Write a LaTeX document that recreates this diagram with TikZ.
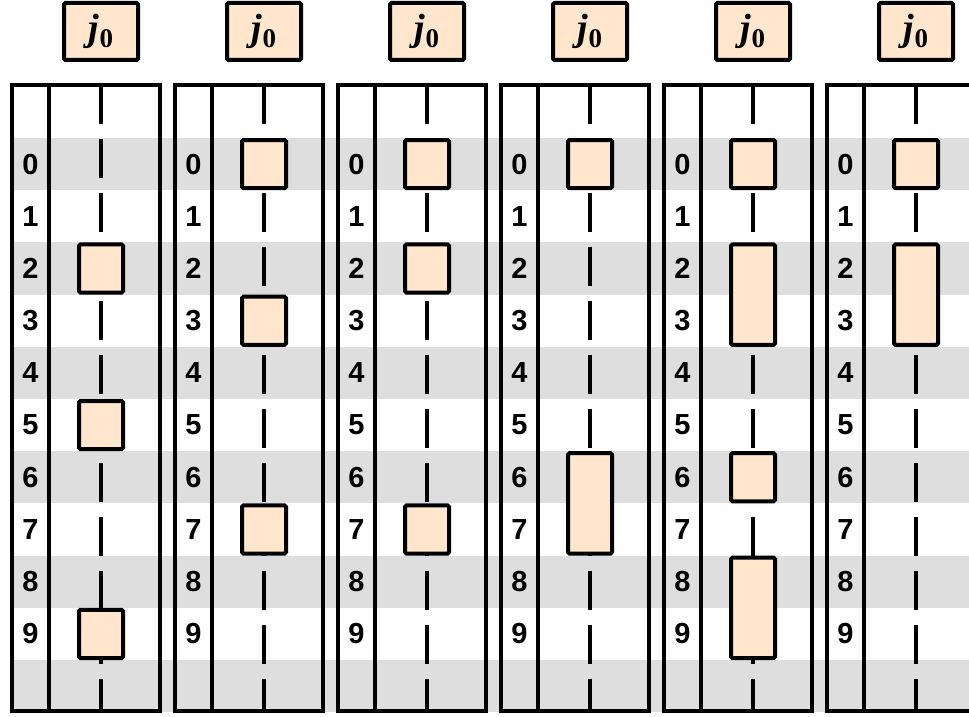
\documentclass[tikz,border=0pt]{standalone}
\usepackage{fontspec}
\setmainfont{Liberation Sans}
\newfontfamily\headfont{Liberation Serif}
\definecolor{peach}{HTML}{FFE6CC}
\definecolor{band}{HTML}{DEDEDE}

\tikzset{
	frame/.style={line width=4pt},
	guide/.style={line width=4pt, dash pattern=on 39pt off 15pt},
	cell/.style={draw, line width=4pt, fill=peach, rounded corners=1.5pt},
	head/.style={cell, minimum width=74pt, minimum height=57pt, inner sep=0pt},
	num/.style={font=\fontsize{29}{29}\selectfont\bfseries, inner sep=0pt}
}
\newcommand{\jzero}{{\headfont\bfseries\itshape\fontsize{38}{38}\selectfont j\raisebox{-7pt}{\upshape\fontsize{27}{27}\selectfont 0}}}

\begin{document}
\begin{tikzpicture}[x=1pt, y=-1pt]
	\useasboundingbox (0,0) rectangle (969,717);
	\clip (0,0) rectangle (969,717);
	% grey bands on the even rows
	\foreach \k in {0,2,...,10}
		\fill[band] (12,138+52.2*\k) rectangle (969,190.2+52.2*\k);
	% one panel per arrangement: panel/list of runs (first row/last row)
	\foreach \p/\runs in {0/{2/2,5/5,9/9}, 1/{0/0,3/3,7/7}, 2/{0/0,2/2,7/7}, 3/{0/0,6/7}, 4/{0/0,2/3,6/6,8/9}, 5/{0/0,2/3}} {
		\pgfmathsetmacro{\x}{12+163*\p}
		\draw[guide] (\x+89,85) -- (\x+89,711);
		\draw[frame] (\x,85) rectangle (\x+148,711);
		\draw[frame] (\x+37,85) -- (\x+37,711);
		\foreach \k in {0,...,9}
			\node[num] (n-\p-\k) at (\x+18.5,164.1+52.2*\k) {\k};
		\foreach \a/\b in \runs
			\draw[cell] (\x+67,140+52.2*\a) rectangle (\x+111,188.2+52.2*\b);
		\node[head] (h-\p) at (\x+89,31.5) {\jzero};
	}
\end{tikzpicture}
\end{document}
